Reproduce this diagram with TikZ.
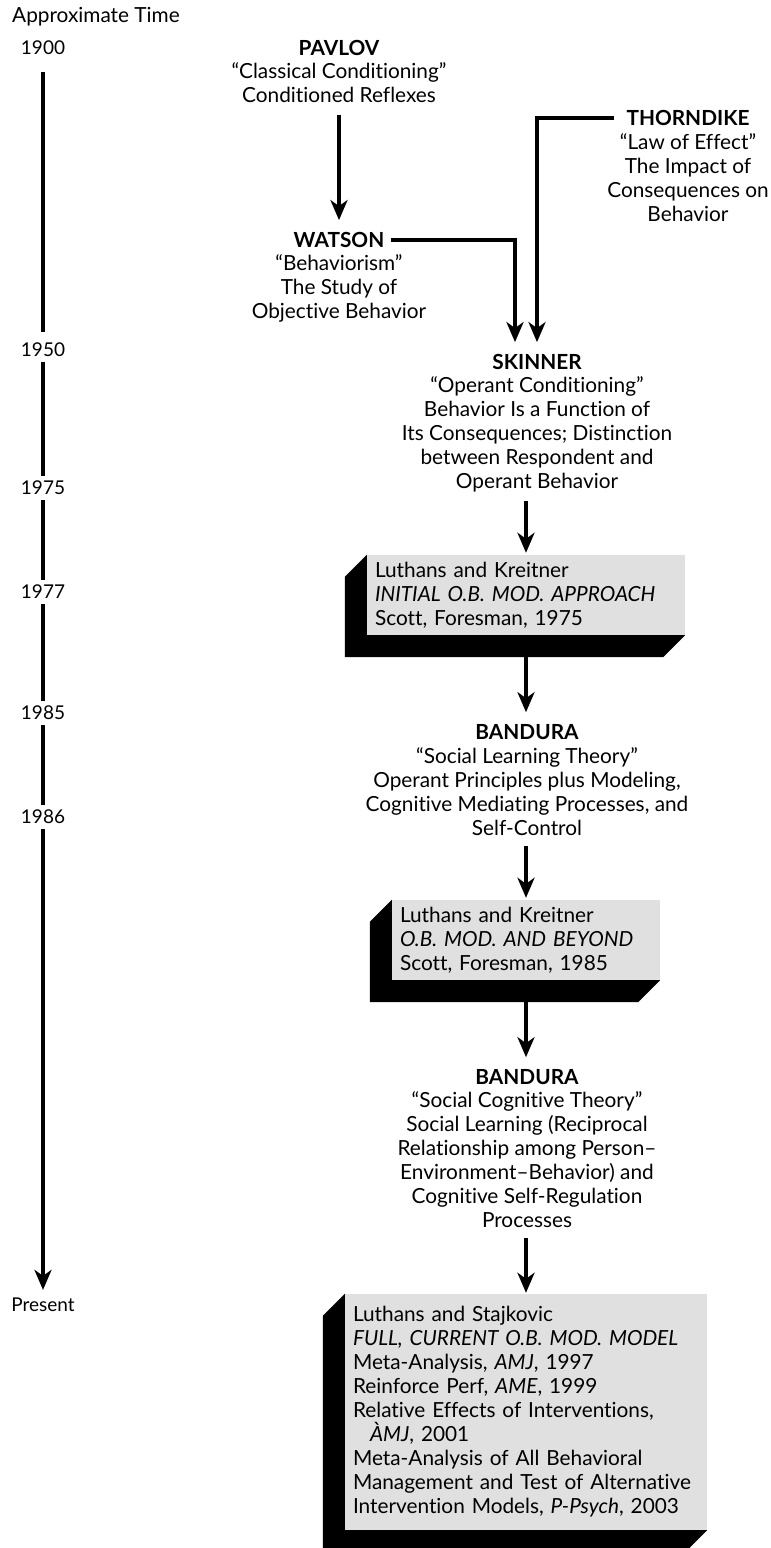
\documentclass[tikz,border=0pt]{standalone}
\usepackage{fontspec}
\setmainfont{Lato}[Ligatures=NoCommon]
\usetikzlibrary{arrows.meta,calc}
\definecolor{boxgray}{RGB}{224,224,224}
\newcommand\bodyfont{\fontsize{20.8}{24}\selectfont}
\newcommand\yearfont{\fontsize{19}{24}\selectfont}

\begin{document}
\begin{tikzpicture}[x=1pt,y=-1pt,
  every node/.style={inner sep=0pt},
  txt/.style={align=center,font=\bodyfont},
  title/.style={font=\bodyfont\bfseries},
  year/.style={font=\yearfont},
  flow/.style={line width=4pt,-{Stealth[length=20pt,width=17pt,inset=6pt]},shorten <=10pt,shorten >=12pt},
  tline/.style={line width=4pt,shorten <=5pt,shorten >=5pt},
  refbox/.style={fill=boxgray,align=left,font=\bodyfont,inner xsep=8pt},
  extr/.style={fill=black}]

\useasboundingbox (0,0) rectangle (771,1548);

% time axis
\node[font=\bodyfont,anchor=west] (axis) at (12,17) {Approximate Time};
\node[year] (t1900) at (43,48) {1900};
\node[year] (t1950) at (43,350) {1950};
\node[year] (t1975) at (43,488) {1975};
\node[year] (t1977) at (43,592) {1977};
\node[year] (t1985) at (43,713) {1985};
\node[year] (t1986) at (43,817) {1986};
\node[year] (tnow) at (43,1305) {Present};

\draw[tline,shorten <=17pt,shorten >=11pt] (t1900.south) -- (t1950.north);
\draw[tline] (t1950.south) -- (t1975.north);
\draw[tline] (t1975.south) -- (t1977.north);
\draw[tline] (t1977.south) -- (t1985.north);
\draw[tline] (t1985.south) -- (t1986.north);
\draw[tline,-{Stealth[length=20pt,width=17pt,inset=6pt]},shorten >=8pt] (t1986.south) -- (tnow.north);

% theories
\node[title] (pavlov) at (339,48) {PAVLOV};
\node[txt] (pavlovd) at (339,82.5) {“Classical Conditioning”\\Conditioned Reflexes};

\node[title] (thorndike) at (688,118) {THORNDIKE};
\node[txt] (thorndiked) at (688,178) {“Law of Effect”\\The Impact of\\Consequences on\\Behavior};

\node[title] (watson) at (339,240) {WATSON};
\node[txt] (watsond) at (339,288) {“Behaviorism”\\The Study of\\Objective Behavior};

\node[title] (skinner) at (537,362) {SKINNER};
\node[txt] (skinnerd) at (537,434) {“Operant Conditioning”\\Behavior Is a Function of\\Its Consequences; Distinction\\between Respondent and\\Operant Behavior};

\node[refbox,text width=302pt,minimum height=80pt] (okb1) at (526,595)
  {Luthans and Kreitner\\\textit{INITIAL O.B. MOD. APPROACH}\\Scott, Foresman, 1975};

\node[title] (bandura) at (527,732) {BANDURA};
\node[txt] (bandurad) at (527,792) {“Social Learning Theory”\\Operant Principles plus Modeling,\\Cognitive Mediating Processes, and\\Self-Control};

\node[refbox,text width=252pt,minimum height=80pt] (okb2) at (526,940)
  {Luthans and Kreitner\\\textit{O.B. MOD. AND BEYOND}\\Scott, Foresman, 1985};

\node[title] (banduras) at (527,1077) {BANDURA};
\node[txt] (bandurasd) at (527,1160) {“Social Cognitive Theory”\\Social Learning (Reciprocal\\Relationship among Person–\\Environment–Behavior) and\\Cognitive Self-Regulation\\Processes};

\node[refbox,text width=346pt,minimum height=236pt] (okb3) at (526,1412)
  {Luthans and Stajkovic\\\textit{FULL, CURRENT O.B. MOD. MODEL}\\Meta-Analysis, \textit{AMJ}, 1997\\Reinforce Perf, \textit{AME}, 1999\\Relative Effects of Interventions,\\\hspace*{17pt}\textit{ÀMJ}, 2001\\Meta-Analysis of All Behavioral\\Management and Test of Alternative\\Intervention Models, \textit{P-Psych}, 2003};

% extruded sides of the reference boxes
\foreach \b in {okb1,okb2,okb3}{
  \fill[extr] (\b.north west) -- ++(-22,22) -- ($(\b.south west)+(-22,22)$)
    -- ($(\b.south east)+(-22,22)$) -- (\b.south east) -- (\b.south west) -- cycle;
}

% influences
\coordinate (wcorner) at (515,240);
\coordinate (tcorner) at (537,118);
\draw[flow,shorten <=12pt] (pavlovd.south) -- (watson.north);
\draw[flow,shorten <=7pt] (watson.east) -- (wcorner) -- (wcorner |- skinner.north);
\draw[flow,shorten <=12pt] (thorndike.west) -- (tcorner) -- (tcorner |- skinner.north);
\draw[flow,shorten <=9pt,shorten >=2pt] (skinnerd.south -| okb1.north) -- (okb1.north);
\draw[flow,shorten <=0pt] (okb1.south) -- (okb1.south |- bandura.north);
\draw[flow,shorten >=2pt] (bandurad.south -| okb2.north) -- (okb2.north);
\draw[flow,shorten <=0pt] (okb2.south) -- (okb2.south |- banduras.north);
\draw[flow,shorten >=1pt] (bandurasd.south -| okb3.north) -- (okb3.north);

\end{tikzpicture}
\end{document}
